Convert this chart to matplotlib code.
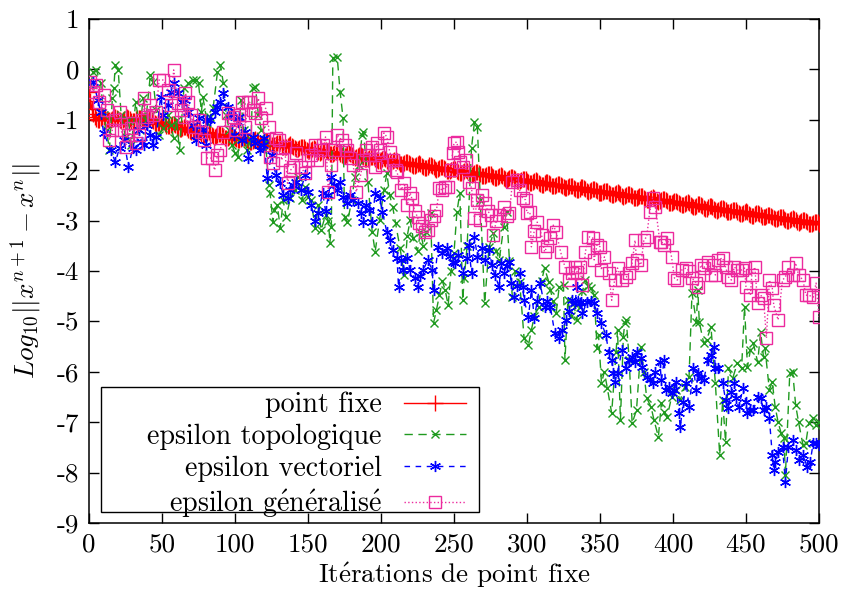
import matplotlib
matplotlib.use("Agg")
import matplotlib.pyplot as plt
from matplotlib.patches import Rectangle
import numpy as np

# ---------------- data ----------------
x_ticks = [0, 50, 100, 150, 200, 250, 300, 350, 400, 450, 500]
y_ticks = [-9, -8, -7, -6, -5, -4, -3, -2, -1, 0, 1]
x_tick_labels = [str(v) for v in x_ticks]
y_tick_labels = [str(v) for v in y_ticks]

labels = ["point fixe", "epsilon topologique", "epsilon vectoriel", r"epsilon g$\acute{\rm e}$n$\acute{\rm e}$ralis$\acute{\rm e}$"]
x_label = r"It$\acute{\rm e}$rations de point fixe"
y_label = r"$Log_{10}||x^{n+1}-x^{n}||$"

# point fixe: one value per iteration 0..500
red_y = [
    -0.45, -0.62, -0.78, -0.88, -0.94, -0.99, -1.01, -1.00,
    -0.97, -0.95, -0.94, -0.95, -0.98, -1.00, -1.01, -1.00,
    -0.98, -0.96, -0.95, -0.96, -0.98, -1.01, -1.02, -1.01,
    -0.99, -0.96, -0.95, -0.96, -0.99, -1.02, -1.03, -1.02,
    -0.99, -0.97, -0.96, -0.97, -1.00, -1.02, -1.03, -1.03,
    -1.00, -0.98, -0.98, -1.00, -1.03, -1.06, -1.08, -1.07,
    -1.06, -1.04, -1.04, -1.05, -1.08, -1.12, -1.13, -1.13,
    -1.11, -1.09, -1.09, -1.11, -1.14, -1.17, -1.19, -1.19,
    -1.17, -1.15, -1.15, -1.16, -1.20, -1.23, -1.25, -1.24,
    -1.22, -1.21, -1.20, -1.22, -1.25, -1.28, -1.30, -1.30,
    -1.28, -1.26, -1.25, -1.27, -1.30, -1.33, -1.34, -1.33,
    -1.31, -1.29, -1.29, -1.30, -1.33, -1.36, -1.37, -1.37,
    -1.35, -1.33, -1.32, -1.34, -1.36, -1.39, -1.41, -1.40,
    -1.38, -1.36, -1.36, -1.37, -1.40, -1.43, -1.44, -1.44,
    -1.42, -1.40, -1.39, -1.40, -1.43, -1.46, -1.48, -1.47,
    -1.45, -1.43, -1.42, -1.44, -1.47, -1.50, -1.51, -1.50,
    -1.48, -1.46, -1.46, -1.47, -1.50, -1.53, -1.54, -1.54,
    -1.52, -1.50, -1.49, -1.51, -1.53, -1.56, -1.58, -1.57,
    -1.55, -1.53, -1.53, -1.54, -1.57, -1.60, -1.61, -1.61,
    -1.59, -1.57, -1.56, -1.57, -1.60, -1.63, -1.65, -1.64,
    -1.62, -1.60, -1.59, -1.61, -1.64, -1.67, -1.68, -1.67,
    -1.65, -1.63, -1.63, -1.64, -1.67, -1.70, -1.71, -1.71,
    -1.69, -1.67, -1.66, -1.68, -1.70, -1.73, -1.75, -1.74,
    -1.72, -1.70, -1.70, -1.71, -1.74, -1.77, -1.78, -1.78,
    -1.76, -1.74, -1.73, -1.74, -1.77, -1.80, -1.82, -1.81,
    -1.79, -1.77, -1.76, -1.78, -1.81, -1.84, -1.85, -1.84,
    -1.82, -1.80, -1.80, -1.81, -1.84, -1.87, -1.88, -1.88,
    -1.86, -1.84, -1.83, -1.85, -1.87, -1.90, -1.92, -1.91,
    -1.89, -1.87, -1.86, -1.88, -1.91, -1.94, -1.95, -1.95,
    -1.93, -1.90, -1.90, -1.91, -1.94, -1.97, -1.99, -1.98,
    -1.96, -1.94, -1.93, -1.95, -1.98, -2.01, -2.02, -2.01,
    -1.99, -1.97, -1.97, -1.98, -2.01, -2.04, -2.05, -2.05,
    -2.03, -2.01, -2.00, -2.01, -2.04, -2.07, -2.09, -2.08,
    -2.06, -2.04, -2.03, -2.05, -2.08, -2.11, -2.12, -2.12,
    -2.09, -2.07, -2.07, -2.08, -2.11, -2.14, -2.15, -2.15,
    -2.13, -2.11, -2.10, -2.12, -2.15, -2.17, -2.19, -2.18,
    -2.16, -2.14, -2.14, -2.15, -2.18, -2.21, -2.22, -2.22,
    -2.20, -2.18, -2.17, -2.18, -2.21, -2.24, -2.26, -2.25,
    -2.23, -2.21, -2.20, -2.22, -2.25, -2.28, -2.29, -2.29,
    -2.26, -2.24, -2.24, -2.25, -2.28, -2.31, -2.32, -2.32,
    -2.30, -2.28, -2.27, -2.29, -2.32, -2.34, -2.36, -2.35,
    -2.33, -2.31, -2.31, -2.32, -2.35, -2.38, -2.39, -2.39,
    -2.37, -2.34, -2.34, -2.35, -2.38, -2.41, -2.43, -2.42,
    -2.40, -2.38, -2.37, -2.39, -2.42, -2.45, -2.46, -2.45,
    -2.43, -2.41, -2.41, -2.42, -2.45, -2.48, -2.49, -2.49,
    -2.47, -2.45, -2.44, -2.46, -2.48, -2.51, -2.53, -2.52,
    -2.50, -2.48, -2.47, -2.49, -2.52, -2.55, -2.56, -2.56,
    -2.54, -2.51, -2.51, -2.52, -2.55, -2.58, -2.60, -2.59,
    -2.57, -2.55, -2.54, -2.56, -2.59, -2.62, -2.63, -2.62,
    -2.60, -2.58, -2.58, -2.59, -2.62, -2.65, -2.66, -2.66,
    -2.64, -2.62, -2.61, -2.63, -2.65, -2.68, -2.70, -2.69,
    -2.67, -2.65, -2.64, -2.66, -2.69, -2.72, -2.73, -2.73,
    -2.71, -2.68, -2.68, -2.69, -2.72, -2.75, -2.77, -2.76,
    -2.74, -2.72, -2.71, -2.73, -2.76, -2.78, -2.80, -2.79,
    -2.77, -2.75, -2.75, -2.76, -2.79, -2.82, -2.83, -2.83,
    -2.81, -2.79, -2.78, -2.79, -2.82, -2.85, -2.87, -2.86,
    -2.84, -2.82, -2.81, -2.83, -2.86, -2.89, -2.90, -2.90,
    -2.87, -2.85, -2.85, -2.86, -2.89, -2.92, -2.93, -2.93,
    -2.91, -2.89, -2.88, -2.90, -2.93, -2.95, -2.97, -2.96,
    -2.94, -2.92, -2.92, -2.93, -2.96, -2.99, -3.00, -3.00,
    -2.98, -2.96, -2.95, -2.96, -2.99, -3.02, -3.04, -3.03,
    -3.01, -2.99, -2.98, -3.00, -3.03, -3.06, -3.07, -3.07,
    -3.04, -3.02, -3.02, -3.03, -3.06,
]
red_x = list(range(len(red_y)))

green_x = [1, 3, 5, 8, 10, 12, 14, 16, 17, 18, 20, 22, 25, 27, 29, 32, 35, 37, 39, 42,
           44, 46, 48, 51, 54, 56, 58, 60, 62, 65, 68, 71, 73, 75, 77, 78, 81, 83, 85, 88,
           90, 92, 94, 96, 98, 100, 102, 104, 106, 108, 111, 112, 114, 116, 118, 121, 123, 124, 126, 127,
           129, 131, 133, 135, 138, 141, 143, 146, 148, 150, 152, 155, 157, 159, 162, 164, 165, 166, 167, 170,
           172, 174, 175, 177, 180, 182, 185, 187, 188, 191, 194, 196, 199, 202, 204, 206, 208, 210, 213, 216,
           218, 220, 222, 225, 227, 229, 231, 234, 236, 238, 240, 242, 244, 246, 248, 250, 252, 254, 256, 257,
           259, 262, 264, 266, 268, 271, 274, 277, 279, 281, 284, 286, 288, 290, 292, 295, 298, 301, 303, 305,
           308, 310, 312, 315, 316, 318, 320, 322, 325, 326, 328, 330, 332, 334, 336, 338, 340, 342, 344, 346,
           348, 349, 351, 353, 355, 358, 361, 362, 364, 366, 367, 368, 370, 372, 375, 378, 380, 382, 385, 387,
           390, 392, 394, 396, 399, 402, 405, 408, 411, 413, 416, 417, 418, 421, 423, 426, 429, 432, 434, 436,
           438, 441, 444, 447, 449, 451, 453, 455, 458, 460, 462, 463, 466, 468, 470, 472, 474, 476, 477, 480,
           482, 484, 486, 489, 491, 493, 496, 498, 500]
green_y = [-0.30, -0.05, -0.01, -0.27, -0.90, -1.20, -1.60, -0.57, -0.37, 0.09, -0.01, -0.90, -1.34, -1.00, -1.50, -0.65, -1.20, -0.57, -1.00, -0.11,
           -0.25, -0.80, -1.30, -1.16, -0.90, -1.10, -1.36, -1.00, -1.60, -0.37, -0.27, -0.21, -0.21, -0.27, -0.84, -0.55, -1.06, -0.94, -0.77, -0.05,
           0.09, -0.27, -0.90, -1.20, -1.50, -1.66, -1.74, -0.61, -1.20, -1.60, -1.40, -0.37, -0.35, -0.90, -1.20, -1.44, -2.29, -2.45, -3.03, -2.79,
           -2.70, -3.15, -2.60, -2.93, -2.55, -2.39, -2.13, -2.60, -2.33, -2.53, -2.59, -3.15, -2.70, -3.19, -2.89, -3.00, -3.44, -3.12, 0.23, 0.25,
           -0.45, -0.96, -2.93, -3.03, -2.60, -2.13, -1.90, -1.30, -1.24, -2.23, -3.23, -3.62, -2.99, -2.40, -2.06, -2.50, -2.73, -3.05, -3.54, -4.08,
           -3.30, -2.99, -3.35, -3.60, -3.23, -3.50, -3.23, -2.85, -5.03, -4.77, -4.48, -4.20, -4.38, -4.68, -4.00, -3.64, -2.83, -2.45, -4.58, -4.14,
           -3.50, -1.56, -1.04, -1.14, -2.59, -4.64, -3.52, -3.25, -3.60, -3.78, -3.13, -2.83, -3.80, -4.52, -4.00, -4.22, -5.33, -5.47, -5.17, -4.90,
           -4.71, -4.20, -3.94, -4.22, -4.38, -4.60, -4.83, -4.32, -4.28, -5.77, -4.58, -4.90, -4.64, -4.97, -4.71, -4.40, -4.18, -4.30, -4.34, -4.48,
           -5.53, -5.27, -6.22, -6.00, -6.32, -6.82, -5.61, -5.17, -6.96, -5.30, -5.03, -4.97, -5.77, -7.02, -6.76, -5.51, -6.00, -6.52, -6.70, -6.96,
           -7.29, -6.62, -6.80, -6.90, -6.50, -6.36, -6.56, -6.30, -6.10, -4.44, -5.01, -4.38, -5.01, -5.43, -5.37, -5.11, -6.22, -7.65, -6.56, -7.39,
           -5.93, -6.12, -5.83, -5.93, -4.71, -5.90, -5.57, -5.43, -5.81, -5.21, -5.71, -5.53, -6.36, -6.20, -6.70, -7.00, -7.21, -7.31, -8.05, -6.02,
           -6.00, -6.66, -7.00, -7.45, -7.41, -7.02, -6.92, -7.06, -7.00]

blue_x = [3, 6, 8, 10, 15, 18, 21, 24, 27, 30, 32, 34, 36, 38, 40, 42, 44, 46, 49, 51,
          54, 56, 58, 61, 64, 66, 68, 71, 73, 75, 78, 80, 81, 83, 86, 88, 90, 92, 95, 97,
          99, 102, 103, 105, 107, 109, 112, 114, 117, 119, 120, 122, 125, 128, 131, 133, 136, 138, 140, 142,
          145, 148, 150, 152, 155, 157, 160, 162, 164, 166, 168, 170, 172, 174, 177, 179, 181, 184, 186, 188,
          190, 192, 194, 196, 199, 201, 204, 206, 208, 211, 212, 214, 215, 218, 220, 223, 225, 227, 229, 232,
          235, 236, 239, 242, 245, 247, 249, 251, 253, 256, 259, 260, 262, 264, 266, 269, 271, 274, 276, 278,
          281, 282, 284, 286, 288, 289, 291, 293, 295, 297, 298, 301, 303, 305, 307, 309, 312, 314, 316, 319,
          322, 324, 327, 329, 331, 333, 334, 336, 337, 338, 341, 344, 346, 348, 351, 354, 356, 358, 359, 360,
          362, 365, 368, 370, 372, 374, 375, 378, 379, 382, 384, 386, 388, 391, 392, 394, 395, 397, 399, 401,
          402, 404, 405, 407, 409, 411, 414, 416, 417, 419, 421, 424, 426, 428, 429, 431, 434, 436, 438, 440,
          442, 443, 445, 448, 450, 451, 453, 455, 458, 460, 462, 464, 466, 468, 469, 470, 472, 475, 477, 479,
          482, 484, 486, 489, 492, 494, 496, 498, 500]
blue_y = [-0.25, -0.60, -0.85, -1.26, -1.60, -1.84, -1.55, -1.40, -1.94, -1.55, -1.60, -1.20, -1.45, -1.50, -1.10, -1.30, -1.50, -1.34, -0.55, -0.90,
          -0.70, -0.45, -0.27, -0.47, -0.65, -0.60, -0.84, -1.10, -1.40, -0.97, -1.20, -1.50, -1.00, -1.00, -0.84, -0.75, -0.65, -0.47, -0.74, -0.90,
          -1.30, -1.04, -0.94, -1.40, -1.25, -1.76, -1.35, -1.46, -1.60, -1.50, -1.36, -2.15, -1.70, -2.10, -2.26, -2.50, -2.55, -2.40, -2.30, -2.24,
          -2.40, -2.10, -2.43, -2.70, -3.00, -2.85, -2.45, -2.80, -2.50, -2.13, -2.30, -2.39, -2.23, -2.53, -2.65, -2.50, -2.60, -2.65, -2.85, -3.03,
          -2.70, -2.79, -3.03, -2.45, -2.55, -2.83, -3.23, -3.39, -3.58, -3.74, -4.32, -3.78, -3.98, -3.74, -3.98, -4.14, -4.32, -4.10, -3.98, -3.78,
          -3.98, -4.38, -3.52, -3.64, -3.54, -3.70, -3.82, -3.84, -3.68, -4.04, -3.74, -3.48, -4.04, -3.32, -3.72, -3.54, -3.78, -3.58, -3.88, -4.08,
          -4.32, -3.84, -4.04, -3.90, -3.82, -4.24, -4.52, -4.30, -4.04, -4.32, -4.58, -4.91, -4.38, -4.93, -4.60, -4.24, -4.71, -4.60, -4.71, -5.23,
          -5.33, -5.17, -4.97, -4.80, -4.58, -4.64, -4.32, -4.64, -4.62, -4.84, -4.62, -4.60, -4.64, -4.84, -5.03, -5.27, -5.61, -5.77, -6.02, -6.20,
          -6.02, -5.57, -5.93, -5.77, -5.71, -5.81, -5.61, -5.73, -5.90, -6.10, -6.15, -6.22, -6.00, -5.81, -6.16, -5.77, -6.36, -6.30, -6.42, -6.36,
          -6.20, -6.82, -7.10, -6.60, -6.22, -6.70, -5.93, -6.36, -6.02, -6.12, -6.16, -5.77, -5.67, -5.51, -5.93, -5.93, -6.22, -6.56, -6.72, -6.40,
          -6.22, -6.52, -6.70, -6.32, -6.60, -6.82, -6.76, -6.76, -6.50, -6.52, -6.76, -6.70, -6.92, -7.65, -7.95, -7.79, -7.59, -7.49, -8.19, -7.49,
          -7.35, -7.55, -7.75, -7.65, -7.89, -7.79, -7.41, -7.41, -7.45]

pink_x = [1, 3, 5, 7, 10, 12, 14, 16, 18, 21, 22, 25, 27, 29, 30, 32, 34, 36, 38, 40,
          42, 44, 46, 48, 51, 54, 56, 58, 61, 63, 65, 66, 68, 70, 72, 75, 77, 79, 81, 84,
          86, 88, 90, 92, 95, 97, 99, 101, 103, 105, 107, 109, 110, 112, 114, 116, 118, 121, 123, 124,
          126, 128, 130, 132, 134, 136, 138, 140, 142, 145, 148, 150, 152, 155, 156, 158, 160, 162, 164, 166,
          168, 170, 173, 175, 177, 179, 181, 183, 186, 188, 190, 192, 194, 196, 197, 199, 201, 202, 204, 206,
          208, 210, 211, 214, 216, 218, 220, 221, 223, 225, 226, 228, 230, 232, 234, 236, 238, 240, 242, 244,
          246, 248, 249, 250, 252, 253, 254, 256, 258, 260, 262, 264, 266, 268, 269, 271, 273, 275, 277, 279,
          281, 284, 286, 288, 290, 293, 295, 297, 299, 300, 302, 303, 305, 307, 310, 312, 314, 316, 318, 320,
          323, 326, 329, 331, 333, 334, 336, 338, 340, 342, 345, 346, 348, 350, 351, 353, 356, 358, 360, 362,
          365, 368, 370, 372, 374, 375, 378, 380, 382, 384, 386, 388, 391, 392, 394, 396, 399, 401, 403, 406,
          409, 411, 413, 416, 417, 419, 421, 424, 426, 428, 429, 431, 434, 436, 438, 440, 442, 444, 447, 449,
          450, 453, 454, 456, 458, 460, 462, 464, 466, 468, 469, 472, 475, 477, 479, 482, 484, 486, 489, 491,
          493, 496, 498, 500]
pink_y = [-0.25, -0.45, -0.30, -0.65, -0.51, -0.80, -1.40, -1.20, -1.00, -0.84, -1.20, -1.54, -1.30, -1.16, -1.06, -1.46, -1.30, -1.00, -0.57, -0.94,
          -0.71, -0.90, -0.84, -0.21, -0.21, -0.41, -0.71, -0.01, -0.67, -0.80, -0.94, -0.47, -0.65, -0.90, -1.14, -1.00, -1.24, -1.40, -1.76, -1.76,
          -2.00, -1.70, -1.60, -1.24, -0.87, -1.00, -0.94, -1.20, -0.90, -0.65, -1.14, -0.65, -0.65, -0.80, -0.87, -0.57, -0.97, -0.77, -1.14, -1.74,
          -1.86, -1.36, -1.40, -1.80, -1.54, -2.26, -2.00, -1.94, -1.66, -1.94, -2.06, -1.80, -1.70, -1.50, -1.80, -1.60, -1.50, -1.34, -2.43, -1.90,
          -1.60, -1.30, -1.40, -1.50, -1.60, -1.75, -1.90, -2.43, -2.10, -1.80, -1.60, -1.70, -1.54, -1.94, -1.46, -1.60, -1.90, -1.26, -1.34, -1.64,
          -1.80, -2.00, -2.04, -2.39, -2.26, -2.69, -2.45, -2.55, -2.80, -2.93, -3.05, -3.10, -3.23, -3.19, -2.99, -2.90, -2.79, -2.35, -2.40, -2.33,
          -2.33, -2.00, -1.66, -1.46, -1.44, -1.64, -1.84, -1.94, -1.80, -2.23, -2.35, -2.95, -2.59, -2.99, -2.49, -2.65, -2.80, -2.89, -3.29, -3.00,
          -2.89, -2.73, -2.90, -2.85, -2.23, -2.19, -2.40, -2.55, -2.59, -2.85, -2.83, -3.52, -3.20, -3.03, -3.29, -3.62, -3.50, -3.35, -3.09, -3.23,
          -3.62, -3.92, -4.18, -4.04, -3.92, -4.02, -3.92, -4.28, -3.62, -3.32, -3.34, -3.78, -3.48, -3.52, -3.98, -3.72, -4.04, -4.58, -4.18, -3.94,
          -4.18, -4.12, -4.04, -3.84, -3.39, -3.78, -3.88, -3.39, -3.32, -2.83, -2.55, -2.73, -3.42, -3.42, -3.48, -3.34, -3.72, -4.14, -4.18, -3.98,
          -3.94, -4.00, -4.14, -4.24, -4.32, -3.88, -3.94, -3.82, -4.08, -3.88, -4.08, -3.78, -3.74, -3.92, -4.12, -4.18, -3.92, -3.98, -3.98, -3.94,
          -4.32, -4.48, -4.08, -3.92, -4.64, -4.48, -4.54, -5.33, -4.18, -4.34, -4.68, -4.97, -4.18, -4.12, -3.92, -4.08, -3.84, -4.08, -4.18, -4.48,
          -4.48, -4.52, -4.24, -4.91]

# ---------------- style ----------------
plt.rcParams["font.family"] = ["cmr10", "DejaVu Serif"]
plt.rcParams["mathtext.fontset"] = "cm"
plt.rcParams["axes.formatter.use_mathtext"] = True
plt.rcParams["axes.unicode_minus"] = False

FS = 19.5
FS_LEG = 20.2
c_red = "#ff0000"
c_green = "#1f9a1f"
c_blue = "#0000ff"
c_pink = "#ec2a9e"

W, H = 842, 591
L, R, T, B = 89, 819, 19, 523
fig = plt.figure(figsize=(W / 100, H / 100), dpi=100)
ax = fig.add_axes([L / W, 1 - B / H, (R - L) / W, (B - T) / H])

ax.plot(red_x, red_y, color=c_red, lw=1.0, marker="+", ms=11, mew=1.0, label=labels[0], zorder=3)
ax.plot(green_x, green_y, color=c_green, lw=1.0, dashes=(6, 4), marker="x", ms=6, mew=1.0,
        label=labels[1], zorder=4)
ax.plot(blue_x, blue_y, color=c_blue, lw=1.0, dashes=(4, 4), marker=(6, 2, 0), ms=8, mew=1.0,
        label=labels[2], zorder=5)
ax.plot(pink_x, pink_y, color=c_pink, lw=1.0, ls=":", marker="s", ms=8.5, mfc="none", mew=1.0,
        label=labels[3], zorder=6)

ax.set_xlim(0, 500)
ax.set_ylim(-9, 1)
ax.set_xticks(x_ticks, labels=x_tick_labels)
ax.set_yticks(y_ticks, labels=y_tick_labels)
ax.tick_params(direction="in", length=7, width=1.0, top=True, right=True,
               labelsize=FS, pad=7, colors="black")
for s in ax.spines.values():
    s.set_linewidth(1.1)
    s.set_color("black")

ax.set_xlabel(x_label, fontsize=FS, labelpad=3)
ax.set_ylabel(y_label, fontsize=FS, labelpad=9)


def ax_x(px):
    return (px - L) / (R - L)


def ax_y(py):
    return (B - py) / (B - T)


# legend frame (gnuplot style box)
frame = Rectangle((ax_x(101), ax_y(512)), ax_x(479) - ax_x(101), ax_y(387) - ax_y(512),
                  transform=ax.transAxes, fill=True, facecolor="white", edgecolor="black",
                  lw=1.0, zorder=9)
ax.add_patch(frame)

leg = ax.legend(loc="center right", bbox_to_anchor=(ax_x(466), ax_y(456)), borderaxespad=0,
                fontsize=FS_LEG, markerfirst=False, frameon=False, handlelength=2.2,
                handletextpad=0.8, labelspacing=0.19, borderpad=0.0, numpoints=1)
leg.set_zorder(10)
for col in leg._legend_handle_box.get_children():
    col.align = "right"

fig.savefig("out.png", dpi=100)
